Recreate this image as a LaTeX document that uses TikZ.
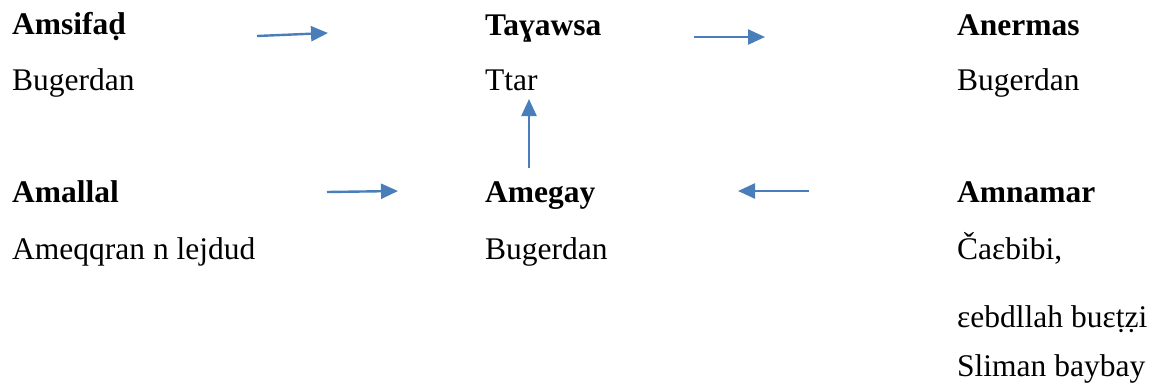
\documentclass[tikz,border=0pt]{standalone}
\usepackage{fontspec}
\setmainfont{Liberation Serif}
\usetikzlibrary{arrows.meta}
\definecolor{linkblue}{RGB}{74,126,187}

\begin{document}
\begin{tikzpicture}[x = 1pt, y = -1pt,
    every node/.style = {anchor = base west, inner sep = 0pt,
        font = \fontsize{31.5}{38}\selectfont},
    head/.style = {font = \fontsize{31.5}{38}\selectfont\bfseries},
    link/.style = {draw = linkblue, line width = 2.4pt,
        -{Triangle[length = 17pt, width = 15pt]}}]
    \useasboundingbox (0,0) rectangle (1156,389);
        % upper row
        \node[head] (amsifad) at (12,34) {Amsifaḍ};
        \node (amsifadtxt) at (12,90) {Bugerdan};
        \node[head] (tayawsa) at (485,35) {Taɣawsa};
        \node (tayawsatxt) at (485,90) {Ttar};
        \node[head] (anermas) at (957,35) {Anermas};
        \node (anermastxt) at (957,90) {Bugerdan};
        % lower row
        \node[head] (amallal) at (12,202) {Amallal};
        \node (amallaltxt) at (12,259) {Ameqqran n lejdud};
        \node[head] (amegay) at (485,202) {Amegay};
        \node (amegaytxt) at (485,259) {Bugerdan};
        \node[head] (amnamar) at (957,202) {Amnamar};
        \node (amnamartxt) at (957,259) {Čaɛbibi,};
        \node (amnamartxt2) at (957,327) {ɛebdllah buɛṭẓi};
        \node (amnamartxt3) at (957,376) {Sliman baybay};
        % arrow ends
        \coordinate (a1) at (257,36);  \coordinate (b1) at (328,33);
        \coordinate (a2) at (694,37);  \coordinate (b2) at (765,37);
        \coordinate (a3) at (327,192); \coordinate (b3) at (398,191);
        \coordinate (a4) at (809,191); \coordinate (b4) at (738,191);
        \coordinate (a5) at (529,168); \coordinate (b5) at (529,99);
        \draw[link] (a1) -- (b1);
        \draw[link] (a2) -- (b2);
        \draw[link] (a3) -- (b3);
        \draw[link] (a4) -- (b4);
        \draw[link] (a5) -- (b5);
\end{tikzpicture}
\end{document}
